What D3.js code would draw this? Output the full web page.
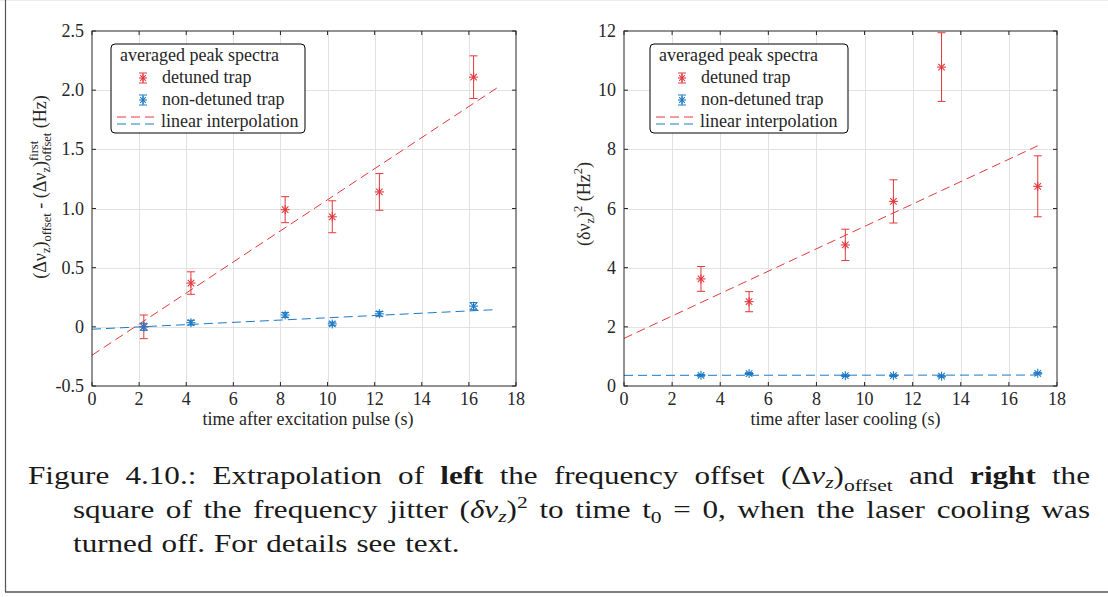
<!DOCTYPE html>
<html>
<head>
<meta charset="utf-8">
<script src="https://cdn.jsdelivr.net/npm/d3@7"></script>
<style>
  body { margin: 0; background: #fff; }
  svg { display: block; }
  text { font-family: "Liberation Serif", "DejaVu Serif", serif; white-space: pre; }
</style>
</head>
<body>
<svg id="fig" width="1108" height="597"></svg>
<script>
// ---- data ----
const xTicks = [0, 2, 4, 6, 8, 10, 12, 14, 16, 18];
const xTickLabels = ["0", "2", "4", "6", "8", "10", "12", "14", "16", "18"];

const leftYTicks = [-0.5, 0, 0.5, 1, 1.5, 2, 2.5];
const leftYTickLabels = ["-0.5", "0", "0.5", "1.0", "1.5", "2.0", "2.5"];
const rightYTicks = [0, 2, 4, 6, 8, 10, 12];
const rightYTickLabels = ["0", "2", "4", "6", "8", "10", "12"];

// left: frequency offset relative to first spectrum
const leftTimes = [2.2, 4.2, 8.2, 10.2, 12.2, 16.2];
const leftDetuned = [0.0, 0.37, 0.99, 0.93, 1.14, 2.11];
const leftDetunedErr = [0.10, 0.095, 0.11, 0.135, 0.155, 0.18];
const leftNonDetuned = [0.0, 0.035, 0.10, 0.025, 0.11, 0.175];
const leftNonDetunedErr = [0.03, 0.02, 0.02, 0.015, 0.02, 0.03];

// right: squared frequency jitter
const rightTimes = [3.2, 5.2, 9.2, 11.2, 13.2, 17.2];
const rightDetuned = [3.62, 2.85, 4.77, 6.24, 10.78, 6.75];
const rightDetunedErr = [0.42, 0.34, 0.53, 0.73, 1.16, 1.03];
const rightNonDetuned = [0.36, 0.42, 0.35, 0.35, 0.33, 0.43];
const rightNonDetunedErr = [0.03, 0.03, 0.03, 0.03, 0.03, 0.03];

// linear fits, evaluated at the ends of the fit range
const fitX = [0, 17.2];
const leftDetunedFit = [-0.24, 2.02];
const leftNonDetunedFit = [-0.02, 0.146];
const rightDetunedFit = [1.61, 8.12];
const rightNonDetunedFit = [0.36, 0.37];

const legendTitle = "averaged peak spectra";
const legendLabels = ["detuned trap", "non-detuned trap", "linear interpolation"];

// ---- styles ----
const RED = "#e2383c";
const BLUE = "#1c79c4";
const AXIS = "#262626";
const GRID = "#e2e2e2";
const FS = 18;

const svg = d3.select("#fig");

// page frame
svg.append("line").attr("x1", 0).attr("x2", 1108).attr("y1", 0.5).attr("y2", 0.5)
  .attr("stroke", "#ececec");
svg.append("line").attr("x1", 5.5).attr("x2", 5.5).attr("y1", 0).attr("y2", 592)
  .attr("stroke", "#555").attr("stroke-width", 1.2);
svg.append("line").attr("x1", 5).attr("x2", 1108).attr("y1", 592).attr("y2", 592)
  .attr("stroke", "#555").attr("stroke-width", 1.5);

// lay out a sequence of styled text runs; returns total advance width
function drawRuns(parent, runs, base) {
  let x = 0, lastX = 0, lastW = 0;
  runs.forEach(r => {
    const px = r.same ? lastX : x;
    const t = parent.append("text")
      .attr("x", px).attr("y", r.dy || 0)
      .attr("font-size", r.size || base.size)
      .attr("fill", base.fill || "#000")
      .attr("font-weight", r.bold ? "bold" : null)
      .attr("font-style", r.italic ? "italic" : null)
      .text(r.t);
    const w = t.node().getComputedTextLength();
    if (r.same) {
      x = lastX + Math.max(lastW, w);
    } else {
      lastX = x; lastW = w; x += w;
    }
  });
  return x;
}

function asterisk(g, cx, cy, r, color) {
  const d = r * 0.72;
  const segs = [[-r, 0, r, 0], [0, -r, 0, r], [-d, -d, d, d], [-d, d, d, -d]];
  segs.forEach(s => g.append("line")
    .attr("x1", cx + s[0]).attr("y1", cy + s[1]).attr("x2", cx + s[2]).attr("y2", cy + s[3])
    .attr("stroke", color).attr("stroke-width", 1.1));
}

function errorBar(g, cx, yTop, yBot, color) {
  g.append("line").attr("x1", cx).attr("x2", cx).attr("y1", yTop).attr("y2", yBot)
    .attr("stroke", color).attr("stroke-width", 1);
  [yTop, yBot].forEach(yy => g.append("line")
    .attr("x1", cx - 4).attr("x2", cx + 4).attr("y1", yy).attr("y2", yy)
    .attr("stroke", color).attr("stroke-width", 1));
}

function panel(cfg) {
  const g = svg.append("g");
  const x = d3.scaleLinear().domain([0, 18]).range([cfg.left, cfg.right]);
  const y = d3.scaleLinear().domain(cfg.yDomain).range([cfg.bottom, cfg.top]);

  // grid
  const grid = g.append("g");
  xTicks.slice(1, -1).forEach(t => grid.append("line")
    .attr("x1", Math.round(x(t)) + 0.5).attr("x2", Math.round(x(t)) + 0.5)
    .attr("y1", cfg.top).attr("y2", cfg.bottom).attr("stroke", GRID));
  cfg.yTicks.slice(1, -1).forEach(t => grid.append("line")
    .attr("y1", Math.round(y(t)) + 0.5).attr("y2", Math.round(y(t)) + 0.5)
    .attr("x1", cfg.left).attr("x2", cfg.right).attr("stroke", GRID));

  // fit lines
  const line = d3.line().x(d => x(d[0])).y(d => y(d[1]));
  [[cfg.fitRed, RED], [cfg.fitBlue, BLUE]].forEach(([vals, col]) => {
    g.append("path").datum(fitX.map((t, i) => [t, vals[i]]))
      .attr("d", line).attr("fill", "none").attr("stroke", col)
      .attr("stroke-width", 1).attr("stroke-dasharray", "9,5");
  });

  // data with error bars
  [[cfg.red, cfg.redErr, RED], [cfg.blue, cfg.blueErr, BLUE]].forEach(([vals, errs, col]) => {
    const sg = g.append("g");
    vals.forEach((v, i) => {
      const cx = x(cfg.times[i]);
      errorBar(sg, cx, y(v + errs[i]), y(v - errs[i]), col);
      asterisk(sg, cx, y(v), 4.5, col);
    });
  });

  // axes box with inward ticks
  const ax = g.append("g").attr("stroke", AXIS).attr("stroke-width", 1);
  ax.append("rect").attr("x", cfg.left).attr("y", cfg.top)
    .attr("width", cfg.right - cfg.left).attr("height", cfg.bottom - cfg.top)
    .attr("fill", "none");
  xTicks.forEach(t => {
    const px = x(t);
    ax.append("line").attr("x1", px).attr("x2", px).attr("y1", cfg.bottom).attr("y2", cfg.bottom - 4);
    ax.append("line").attr("x1", px).attr("x2", px).attr("y1", cfg.top).attr("y2", cfg.top + 4);
  });
  cfg.yTicks.forEach(t => {
    const py = y(t);
    ax.append("line").attr("y1", py).attr("y2", py).attr("x1", cfg.left).attr("x2", cfg.left + 4);
    ax.append("line").attr("y1", py).attr("y2", py).attr("x1", cfg.right).attr("x2", cfg.right - 4);
  });

  // tick labels
  xTicks.forEach((t, i) => g.append("text")
    .attr("x", x(t)).attr("y", cfg.bottom + 19).attr("text-anchor", "middle")
    .attr("font-size", FS).attr("fill", AXIS).text(xTickLabels[i]));
  cfg.yTicks.forEach((t, i) => g.append("text")
    .attr("x", cfg.left - 8).attr("y", y(t) + 6).attr("text-anchor", "end")
    .attr("font-size", FS).attr("fill", AXIS).text(cfg.yTickLabels[i]));

  // x label
  g.append("text").attr("x", (cfg.left + cfg.right) / 2 + cfg.xLabelShift).attr("y", cfg.bottom + 39)
    .attr("text-anchor", "middle").attr("font-size", FS).attr("fill", AXIS).text(cfg.xLabel);

  // y label (rotated, built from runs)
  const yl = g.append("g");
  const inner = yl.append("g");
  const w = drawRuns(inner, cfg.yLabelRuns, { size: FS, fill: AXIS });
  inner.attr("transform", `translate(${-w / 2},0)`);
  yl.attr("transform", `translate(${cfg.yLabelX},${cfg.yLabelY}) rotate(-90)`);

  // legend
  const L = cfg.legend;
  const lg = g.append("g");
  lg.append("rect").attr("x", L.x).attr("y", L.y).attr("width", L.w).attr("height", L.h)
    .attr("rx", 4).attr("fill", "#fff").attr("stroke", "#000").attr("stroke-width", 1);
  lg.append("text").attr("x", L.x + 9).attr("y", L.y + 17).attr("font-size", FS)
    .attr("fill", AXIS).text(legendTitle);
  [[RED, 39], [BLUE, 61]].forEach(([col, dy], i) => {
    const cx = L.x + 32, cy = L.y + dy - 5;
    errorBar(lg, cx, cy - 5, cy + 5, col);
    asterisk(lg, cx, cy, 4, col);
    lg.append("text").attr("x", L.x + 51).attr("y", L.y + dy).attr("font-size", FS)
      .attr("fill", AXIS).text(legendLabels[i]);
  });
  [[RED, 73], [BLUE, 80]].forEach(([col, dy]) => lg.append("line")
    .attr("x1", L.x + 6).attr("x2", L.x + 46).attr("y1", L.y + dy).attr("y2", L.y + dy)
    .attr("stroke", col).attr("stroke-dasharray", "9,5"));
  lg.append("text").attr("x", L.x + 50).attr("y", L.y + 83).attr("font-size", FS)
    .attr("fill", AXIS).text(legendLabels[2]);
}

const SUB = 12.5;
panel({
  left: 92, right: 516, top: 31, bottom: 386,
  yDomain: [-0.5, 2.5], yTicks: leftYTicks, yTickLabels: leftYTickLabels,
  times: leftTimes,
  red: leftDetuned, redErr: leftDetunedErr,
  blue: leftNonDetuned, blueErr: leftNonDetunedErr,
  fitRed: leftDetunedFit, fitBlue: leftNonDetunedFit,
  xLabel: "time after excitation pulse (s)", xLabelShift: 4,
  yLabelX: 46, yLabelY: 187,
  yLabelRuns: [
    { t: "(Δν" }, { t: "z", size: SUB, dy: 4 }, { t: ")" },
    { t: "offset", size: SUB, dy: 5 },
    { t: " - (Δν" }, { t: "z", size: SUB, dy: 4 }, { t: ")" },
    { t: "offset", size: SUB, dy: 5 }, { t: "first", size: SUB, dy: -8, same: true },
    { t: " (Hz)" }
  ],
  legend: { x: 111, y: 44, w: 194, h: 89 }
});

panel({
  left: 624, right: 1057, top: 31, bottom: 386,
  yDomain: [0, 12], yTicks: rightYTicks, yTickLabels: rightYTickLabels,
  times: rightTimes,
  red: rightDetuned, redErr: rightDetunedErr,
  blue: rightNonDetuned, blueErr: rightNonDetunedErr,
  fitRed: rightDetunedFit, fitBlue: rightNonDetunedFit,
  xLabel: "time after laser cooling (s)", xLabelShift: 5,
  yLabelX: 590, yLabelY: 204,
  yLabelRuns: [
    { t: "(δν" }, { t: "z", size: SUB, dy: 4 }, { t: ")" },
    { t: "2", size: SUB, dy: -8 }, { t: " (Hz" }, { t: "2", size: SUB, dy: -8 }, { t: ")" }
  ],
  legend: { x: 650, y: 44, w: 198, h: 89 }
});

// ---- caption (justified, wide roman face) ----
const CAP = 24.5, CAPSUB = 17, CAP_SX = 1.27;
const captionLines = [
  { x0: 28, x1: 1090, y: 484, justify: true, words: [
    [{ t: "Figure" }], [{ t: "4.10.:" }], [{ t: "Extrapolation" }], [{ t: "of" }],
    [{ t: "left", bold: true }], [{ t: "the" }], [{ t: "frequency" }], [{ t: "offset" }],
    [{ t: "(Δ" }, { t: "ν", italic: true }, { t: "z", italic: true, size: CAPSUB, dy: 4 },
     { t: ")" }, { t: "offset", size: CAPSUB, dy: 7 }],
    [{ t: "and" }], [{ t: "right", bold: true }], [{ t: "the" }]
  ]},
  { x0: 73, x1: 1090, y: 518, justify: true, words: [
    [{ t: "square" }], [{ t: "of" }], [{ t: "the" }], [{ t: "frequency" }], [{ t: "jitter" }],
    [{ t: "(" }, { t: "δν", italic: true }, { t: "z", italic: true, size: CAPSUB, dy: 4 },
     { t: ")" }, { t: "2", size: CAPSUB, dy: -10 }],
    [{ t: "to" }], [{ t: "time" }], [{ t: "t" }, { t: "0", size: CAPSUB, dy: 5 }],
    [{ t: "=" }], [{ t: "0," }], [{ t: "when" }], [{ t: "the" }], [{ t: "laser" }],
    [{ t: "cooling" }], [{ t: "was" }]
  ]},
  { x0: 73, x1: 1090, y: 552, justify: false, words: [
    [{ t: "turned" }], [{ t: "off." }], [{ t: "For" }], [{ t: "details" }],
    [{ t: "see" }], [{ t: "text." }]
  ]}
];

const cap = svg.append("g");
captionLines.forEach(line => {
  const groups = line.words.map(word => {
    const wg = cap.append("g");
    const inner = wg.append("g").attr("transform", `scale(${CAP_SX},1)`);
    const w = drawRuns(inner, word, { size: CAP, fill: "#1a1a1a" }) * CAP_SX;
    return { wg, w };
  });
  const total = d3.sum(groups, d => d.w);
  const gap = line.justify ? (line.x1 - line.x0 - total) / (groups.length - 1) : 9;
  let cx = line.x0;
  groups.forEach(({ wg, w }) => {
    wg.attr("transform", `translate(${cx},${line.y})`);
    cx += w + gap;
  });
});
</script>
</body>
</html>
